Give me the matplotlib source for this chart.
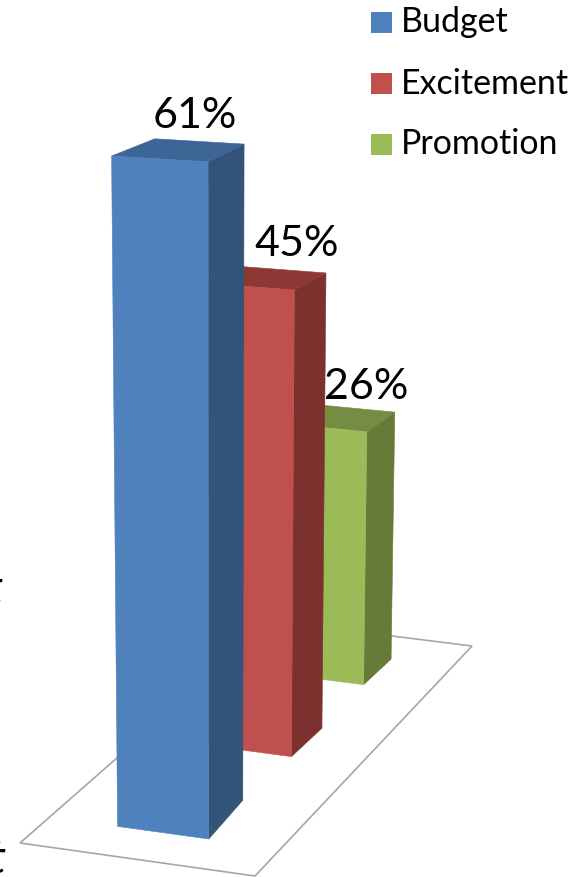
import numpy as np
import matplotlib
matplotlib.use('Agg')
import matplotlib.pyplot as plt
from matplotlib.patches import Polygon, Rectangle

plt.rcParams['font.family'] = ['Lato', 'DejaVu Sans']

series = ['Budget', 'Excitement', 'Promotion']
values = [61, 45, 26]
front_colors = ['#4F81BD', '#C0504D', '#9BBB59']
side_colors = ['#335379', '#7D312F', '#667B38']
top_colors = ['#3D6595', '#8E3836', '#748D43']

# depth range of each bar on the floor (0 = front edge, 1 = back edge)
depth_front = [0.10, 0.435, 0.765]
depth_back = [0.25, 0.562, 0.893]
bar_left = 0.297
bar_right = 0.692
bar_right_back = [0.673, 0.70, 0.70]

# label offsets from the middle of the top face's back edge
label_dx = [-5, 15, 13]
label_dy = [-13, -14, -9]

# floor homography, unit square to pixels
A, B, C = 231.55, 306.4, 20.0
D, E, F = 21.16, -100.5, 843.0
G, H = -0.01352, 0.1956


def floor_point(u, v):
    w = G * u + H * v + 1
    return (A * u + B * v + C) / w, (D * u + E * v + F) / w


def lift(point, value):
    # raise a floor point by value, further points rise less per percent
    x, y = point
    scale = 9.5 + 0.0089 * (y - 659)
    return x + (x - 220) * 8.7e-5 * scale * value, y - scale * value


def project(u, v, value=0):
    return lift(floor_point(u, v), value)


def face(points, color):
    ax.add_patch(Polygon(points, closed=True, facecolor=color, edgecolor=color, linewidth=0.4))


fig = plt.figure(figsize=(5.86, 8.77), dpi=100)
ax = fig.add_axes([0, 0, 1, 1])
ax.set_xlim(0, 586)
ax.set_ylim(877, 0)
ax.axis('off')

# floor
corners = [floor_point(*c) for c in [(0, 0), (1, 0), (1, 1), (0, 1)]]
ax.add_patch(Polygon(corners, closed=True, facecolor='white', edgecolor='#A6A6A6', linewidth=1.2))

# bars, back to front so nearer ones cover the others
for i in [2, 1, 0]:
    v0, v1, val = depth_front[i], depth_back[i], values[i]
    back = bar_right_back[i]
    front = [project(bar_left, v0), project(bar_right, v0),
             project(bar_right, v0, val), project(bar_left, v0, val)]
    side = [project(bar_right, v0), project(back, v1),
            project(back, v1, val), project(bar_right, v0, val)]
    top = [project(bar_left, v0, val), project(bar_right, v0, val),
           project(back, v1, val), project(bar_left, v1, val)]
    face(side, side_colors[i])
    face(top, top_colors[i])
    face(front, front_colors[i])

    lx = (top[2][0] + top[3][0]) / 2
    ly = (top[2][1] + top[3][1]) / 2
    ax.text(lx + label_dx[i], ly + label_dy[i], f'{val}%', fontsize=31, color='black',
            ha='center', va='baseline', zorder=5)

# legend
for i, name in enumerate(series):
    y = 12 + i * 61
    ax.add_patch(Rectangle((371, y), 21, 21, facecolor=front_colors[i], edgecolor='none'))
    ax.text(401, y + 20.5, name, fontsize=24.5, color='black', va='baseline', ha='left')

# words cut off by the left edge of the slide
ax.text(3, 603, 't', fontsize=33, color='black', ha='right', va='baseline', style='italic')
ax.text(6, 873, 't', fontsize=33, color='black', ha='right', va='baseline', style='italic')

fig.savefig('out.png', dpi=100)
